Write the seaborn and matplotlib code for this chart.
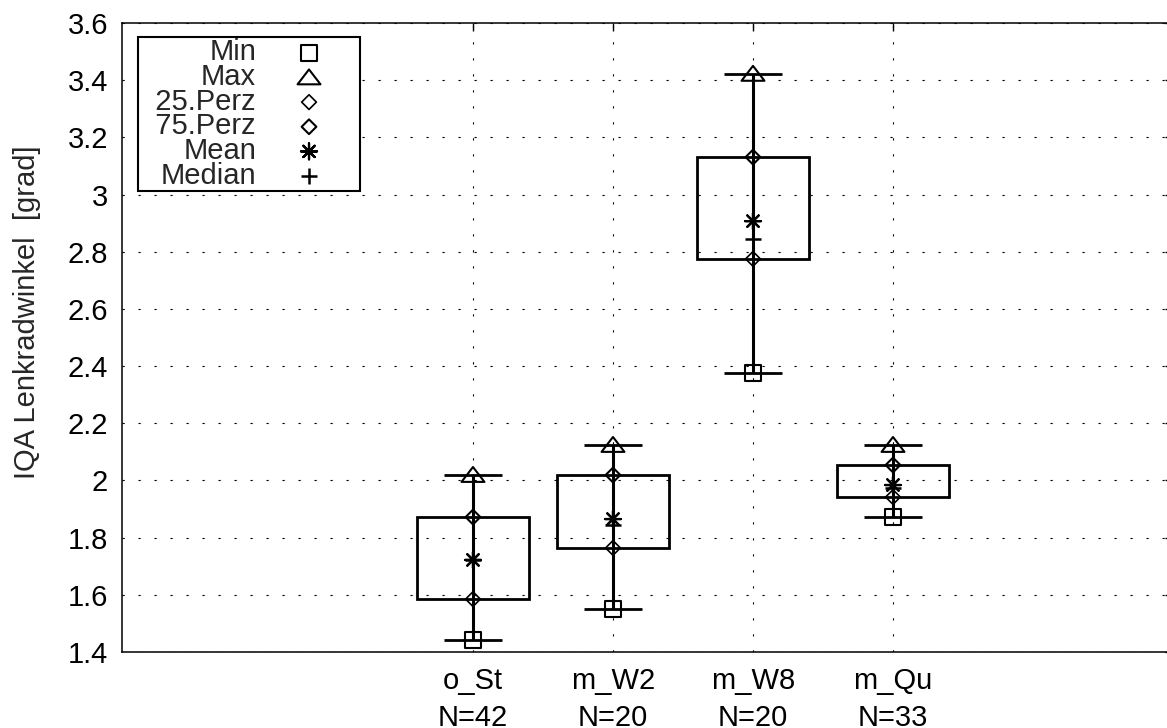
import matplotlib
matplotlib.use("Agg")
import matplotlib.pyplot as plt
import seaborn as sns
import numpy as np
from matplotlib.path import Path
from matplotlib.patches import Rectangle

# ---- data ----
categories = ["o_St", "m_W2", "m_W8", "m_Qu"]
n_values = [42, 20, 20, 33]
min_vals = [1.442, 1.550, 2.376, 1.872]
max_vals = [2.019, 2.124, 3.422, 2.124]
p25_vals = [1.585, 1.764, 2.775, 1.942]
p75_vals = [1.872, 2.019, 3.131, 2.054]
mean_vals = [1.722, 1.865, 2.907, 1.984]
median_vals = [1.722, 1.845, 2.845, 1.972]
ytick_vals = [1.4, 1.6, 1.8, 2.0, 2.2, 2.4, 2.6, 2.8, 3.0, 3.2, 3.4, 3.6]
ytick_labels = ["1.4", "1.6", "1.8", "2", "2.2", "2.4", "2.6", "2.8", "3", "3.2", "3.4", "3.6"]
legend_labels = ["Min", "Max", "25.Perz", "75.Perz", "Mean", "Median"]
ylabel = "IQA Lenkradwinkel  [grad]"

sns.set_style("white")
plt.rcParams["font.family"] = ["Liberation Sans", "DejaVu Sans"]
FS = 21
plt.rcParams["font.size"] = FS

W, H = 1167, 728
fig = plt.figure(figsize=(W / 100, H / 100), dpi=100)
ax = fig.add_axes([122 / W, (H - 652) / H, (1173 - 122) / W, (652 - 23) / H])

pos = np.arange(1, len(categories) + 1)
box_half = 0.40
cap_half = 0.21

for x, lo, hi in zip(pos, p25_vals, p75_vals):
    ax.add_patch(Rectangle((x - box_half, lo), 2 * box_half, hi - lo,
                           fill=False, ec="black", lw=2, zorder=3))
ax.vlines(pos, min_vals, max_vals, color="black", lw=2.2, zorder=3)
ax.hlines(min_vals, pos - cap_half, pos + cap_half, color="black", lw=2, zorder=3)
ax.hlines(max_vals, pos - cap_half, pos + cap_half, color="black", lw=2, zorder=3)

tri = Path([(-1, -0.6), (1, -0.6), (0, 0.7), (-1, -0.6)],
           [Path.MOVETO, Path.LINETO, Path.LINETO, Path.CLOSEPOLY])

series = [min_vals, max_vals, p25_vals, p75_vals, mean_vals, median_vals]
styles = [("s", 11.5, 1.5), (tri, 16.5, 1.5), ("D", 7.5, 1.2),
          ("D", 7.5, 1.5), ((8, 2, 0), 11.5, 1.6), ("+", 11.0, 1.8)]
for label, vals, (mk, ms, lw) in zip(legend_labels, series, styles):
    sns.scatterplot(x=pos, y=vals, marker=mk, s=ms ** 2, color="black",
                    linewidth=lw, ax=ax, label=label, zorder=4)
    coll = ax.collections[-1]
    coll.set_facecolor("none")
    coll.set_edgecolor("black")
    coll.set_linewidth(lw)

ax.set_xlim(-1.507, 6.0)
ax.set_ylim(1.4, 3.6)
ax.set_yticks(ytick_vals)
ax.set_yticklabels(ytick_labels)
ax.set_xticks(pos)
ax.set_xticklabels([f"{c}\nN={n}" for c, n in zip(categories, n_values)],
                   linespacing=1.4)
ax.set_ylabel(ylabel, fontsize=FS)
ax.yaxis.set_label_coords(-0.077, 0.54)

ax.grid(True, color="black", linestyle=(0, (2, 12.4)), lw=0.8)
ax.set_axisbelow(True)
ax.tick_params(direction="in", length=6, width=1, top=True, right=True,
               colors="black", labelsize=FS)
ax.tick_params(axis="y", pad=10)
ax.tick_params(axis="x", pad=11)
for sp in ax.spines.values():
    sp.set_visible(True)
    sp.set_color("black")
    sp.set_linewidth(1.1)

handles, labels = ax.get_legend_handles_labels()
padded = [("  " + l) if "Perz" in l else l for l in labels]
leg = ax.legend(handles, padded, loc="upper left",
                bbox_to_anchor=(16 / 1051, 1 - 14 / 629),
                borderaxespad=0, markerfirst=False, frameon=True, fancybox=False,
                edgecolor="black", framealpha=1, labelspacing=-0.115,
                handlelength=3.39, handletextpad=0.12, borderpad=0.05,
                scatterpoints=1, fontsize=FS)
leg.get_frame().set_linewidth(1.5)

fig.savefig("out.png", dpi=100)
